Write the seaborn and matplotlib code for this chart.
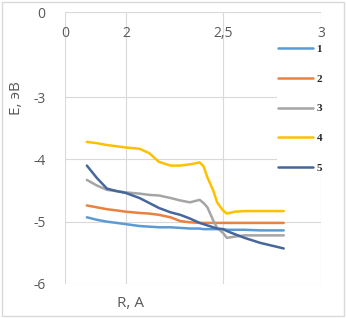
import numpy as np
import pandas as pd
import seaborn as sns
import matplotlib.pyplot as plt
from matplotlib.patches import Rectangle

sns.set_theme(style='white')
plt.rcParams['font.family'] = ['Open Sans', 'DejaVu Sans']

GRID, TICK = '#d9d9d9', '#595959'
COLORS = ['#5B9BD5', '#E8823E', '#A5A5A5', '#FFC000', '#46679C']

# R values (axis is piecewise: 0..2 compressed, 2..3 wide)
r = [0.72, 1.05, 1.38, 1.70, 2.00, 2.07, 2.12, 2.17, 2.23, 2.28, 2.33, 2.38,
     2.40, 2.42, 2.45, 2.47, 2.50, 2.52, 2.56, 2.61, 2.69, 2.81]
e1 = [-4.93, -4.97, -5.00, -5.02, -5.04, -5.07, -5.08, -5.09, -5.09, -5.10, -5.11, -5.11,
      -5.12, -5.12, -5.12, -5.12, -5.12, -5.13, -5.13, -5.13, -5.14, -5.14]
e2 = [-4.74, -4.77, -4.80, -4.82, -4.84, -4.86, -4.87, -4.89, -4.93, -4.99, -5.01, -5.02,
      -5.02, -5.02, -5.02, -5.02, -5.02, -5.02, -5.02, -5.02, -5.02, -5.02]
e3 = [-4.33, -4.42, -4.49, -4.51, -4.53, -4.55, -4.57, -4.58, -4.62, -4.66, -4.69, -4.65,
      -4.70, -4.77, -4.98, -5.10, -5.18, -5.26, -5.24, -5.22, -5.22, -5.22]
e4 = [-3.72, -3.74, -3.77, -3.79, -3.81, -3.83, -3.90, -4.04, -4.10, -4.10, -4.08, -4.05,
      -4.11, -4.29, -4.50, -4.69, -4.82, -4.87, -4.84, -4.83, -4.83, -4.83]
e5 = [-4.10, -4.30, -4.47, -4.51, -4.54, -4.62, -4.70, -4.78, -4.85, -4.89, -4.95, -5.02,
      -5.04, -5.06, -5.09, -5.11, -5.12, -5.15, -5.20, -5.26, -5.34, -5.43]
names = ['1', '2', '3', '4', '5']

df = pd.concat([pd.DataFrame({'R': r, 'E': e, 's': n})
                for n, e in zip(names, [e1, e2, e3, e4, e5])])

XT, XP = [0, 2, 2.5, 3], [0, 61, 158, 256]
YT, YP = [-6, -3, 0], [0, 187, 272]

fig = plt.figure(figsize=(3.47, 3.18), dpi=100)
fig.patch.set_facecolor('white')
ax = fig.add_axes([0.187, 0.107, 0.738, 0.855])
ax.set_xscale('function', functions=(lambda v: np.interp(v, XT, XP), lambda p: np.interp(p, XP, XT)))
ax.set_yscale('function', functions=(lambda v: np.interp(v, YT, YP), lambda p: np.interp(p, YP, YT)))

sns.lineplot(data=df, x='R', y='E', hue='s', palette=COLORS, lw=1.8, ax=ax, legend=False)

ax.set_xlim(0, 3)
ax.set_ylim(-6, 0)
ax.set_xticks([0, 2, 2.5, 3])
ax.set_xticklabels(['0', '2', '2,5', '3'])
ax.set_yticks([0, -3, -4, -5, -6])
ax.set_yticklabels(['0', '-3', '-4', '-5', '-6'])
ax.minorticks_off()
ax.grid(True, color=GRID, lw=0.8)
for sp in ax.spines.values():
    sp.set_visible(False)
ax.tick_params(axis='x', bottom=False, top=False, labelbottom=False, labeltop=True,
               pad=-27, labelsize=10, colors=TICK)
ax.tick_params(axis='y', left=False, pad=8, labelsize=10, colors=TICK)

ax.set_xlabel('R, A', fontsize=11, color=TICK)
ax.xaxis.set_label_position('bottom')
ax.xaxis.set_label_coords(0.258, -0.045)
ax.set_ylabel('E, эВ', fontsize=11, color=TICK)
ax.yaxis.set_label_coords(-0.16, 0.684)

leg = ax.legend(ax.get_lines(), names, loc='upper left', bbox_to_anchor=(0.805, 0.905),
                handlelength=3.2, handletextpad=0.3, labelspacing=1.78, borderpad=0.1,
                frameon=True, framealpha=1, edgecolor='none', facecolor='white',
                prop={'family': 'Liberation Serif', 'weight': 'bold', 'size': 8})

fig.patches.append(Rectangle((0.006, 0.006), 0.985, 0.988, transform=fig.transFigure,
                             fill=False, edgecolor=GRID, lw=1))

fig.savefig('out.png', dpi=100, facecolor='white')
